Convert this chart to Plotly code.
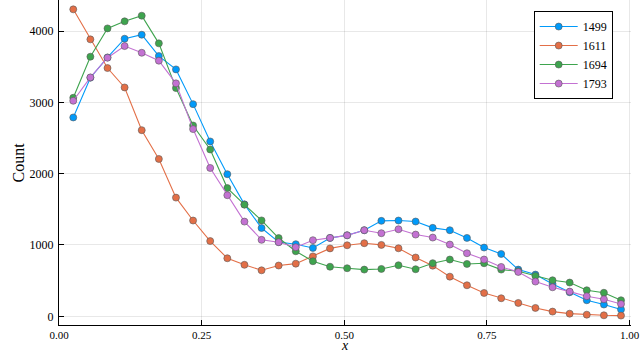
import plotly.graph_objects as go

x = [0.025, 0.055, 0.085, 0.115, 0.145, 0.175, 0.205, 0.235, 0.265, 0.295, 0.325,
     0.355, 0.385, 0.415, 0.445, 0.475, 0.505, 0.535, 0.565, 0.595, 0.625, 0.655,
     0.685, 0.715, 0.745, 0.775, 0.805, 0.835, 0.865, 0.895, 0.925, 0.955, 0.985]

y1499 = [2788, 3345, 3630, 3892, 3948, 3649, 3462, 2975, 2452, 1993, 1570,
         1238, 1041, 1011, 958, 1099, 1137, 1207, 1338, 1343, 1329, 1240,
         1207, 1099, 964, 874, 655, 585, 454, 337, 225, 165, 96]
y1611 = [4304, 3883, 3481, 3209, 2610, 2206, 1664, 1343, 1055, 814, 722,
         645, 712, 738, 840, 952, 996, 1025, 1001, 954, 824, 710,
         556, 435, 327, 253, 187, 117, 66, 37, 23, 14, 10]
y1694 = [3064, 3640, 4037, 4136, 4215, 3827, 3200, 2676, 2339, 1798, 1565,
         1345, 1097, 912, 772, 695, 674, 655, 664, 716, 660, 745,
         796, 734, 744, 655, 632, 566, 505, 473, 365, 330, 225]
y1793 = [3022, 3350, 3626, 3789, 3695, 3584, 3266, 2625, 2080, 1698, 1328,
         1072, 1039, 968, 1067, 1099, 1135, 1207, 1165, 1221, 1146, 1104,
         1006, 884, 796, 692, 622, 487, 407, 346, 281, 239, 173]

names = ["1499", "1611", "1694", "1793"]
series = [y1499, y1611, y1694, y1793]
colors = ["#009AFA", "#E36F47", "#3EA44E", "#C371D2"]

FONT = "Liberation Serif"

fig = go.Figure()
for name, ys, c in zip(names, series, colors):
    fig.add_trace(go.Scatter(
        x=x, y=ys, name=name, mode="lines+markers",
        line=dict(color=c, width=1.1),
        marker=dict(color=c, size=7, line=dict(color="rgba(90,90,90,0.6)", width=1)),
    ))

axis_common = dict(
    showline=True, linecolor="black", linewidth=1, mirror=False,
    showgrid=True, gridcolor="rgba(0,0,0,0.09)", gridwidth=1,
    ticks="inside", ticklen=5, tickcolor="black", tickwidth=1,
    zeroline=False, automargin=False,
)

fig.update_xaxes(
    range=[0, 1.0025], tickvals=[0, 0.25, 0.5, 0.75, 1.0],
    ticktext=["0.00", "0.25", "0.50", "0.75", "1.00"],
    ticklabeloverflow="allow", ticklabelstandoff=0,
    tickfont=dict(family=FONT, size=11, color="black"),
    **axis_common,
)
fig.update_yaxes(
    range=[-122, 4435], tickvals=[0, 1000, 2000, 3000, 4000],
    ticklabelstandoff=2,
    tickfont=dict(family=FONT, size=12, color="black"),
    **axis_common,
)

# axis titles as annotations for exact placement
fig.add_annotation(
    text="<i>x</i>", xref="paper", yref="paper", x=0.5, y=0, yshift=-30,
    xanchor="center", yanchor="bottom", showarrow=False,
    font=dict(family=FONT, size=14, color="black"),
)
fig.add_annotation(
    text="Count", xref="paper", yref="paper", x=0, y=0.5, xshift=-41,
    xanchor="center", yanchor="middle", showarrow=False, textangle=-90,
    font=dict(family=FONT, size=16, color="black"),
)

fig.update_layout(
    template="none",
    width=640, height=354,
    margin=dict(l=59, r=9, t=0, b=29),
    plot_bgcolor="white", paper_bgcolor="white",
    font=dict(family=FONT, size=12, color="black"),
    legend=dict(
        x=0.968, y=0.966, xanchor="right", yanchor="top",
        bordercolor="black", borderwidth=1, bgcolor="white",
        font=dict(family=FONT, size=12), itemwidth=38, tracegroupgap=0,
    ),
)

fig.write_html("out.html", config={"displayModeBar": False},
               post_script="document.body.style.margin='0';")
